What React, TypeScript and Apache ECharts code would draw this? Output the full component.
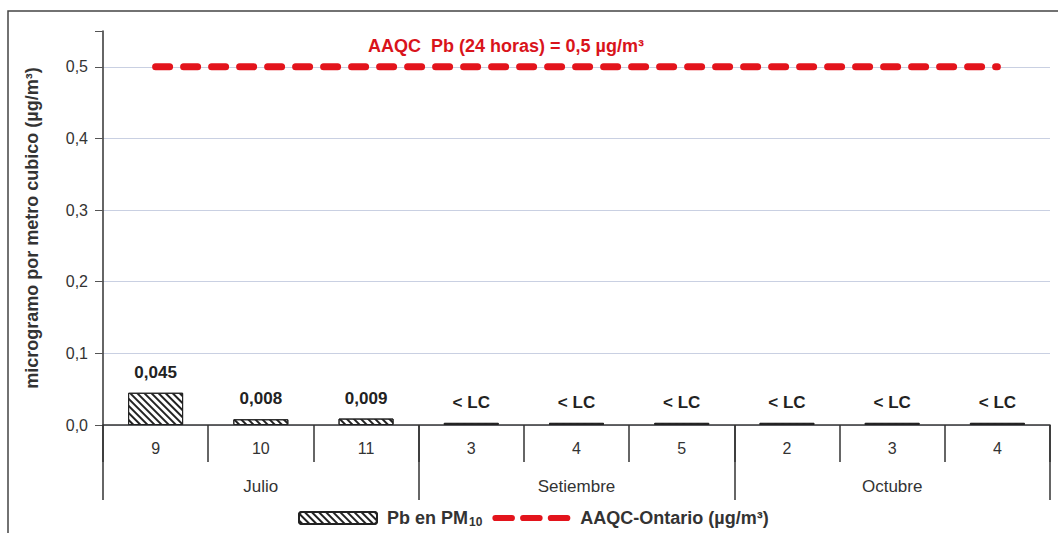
import React, { useEffect, useRef } from "react";
import * as echarts from "echarts";

const days = ["9", "10", "11", "3", "4", "5", "2", "3", "4"];
const months = ["Julio", "Setiembre", "Octubre"];
const pbValues = [0.045, 0.008, 0.009, 0.003, 0.003, 0.003, 0.003, 0.003, 0.003];
const pbLabels = ["0,045", "0,008", "0,009", "< LC", "< LC", "< LC", "< LC", "< LC", "< LC"];
const aaqcValues = [0.5, 0.5, 0.5, 0.5, 0.5, 0.5, 0.5, 0.5, 0.5];
const yTicks = [0, 0.1, 0.2, 0.3, 0.4, 0.5];

const FONT = "'Liberation Sans', Arial, sans-serif";
const RED = "#e3141c";

const DASH_ICON =
  "path://M3,3H19A3,3 0 0 1 19,9H3A3,3 0 0 1 3,3Z" +
  "M30,3H46A3,3 0 0 1 46,9H30A3,3 0 0 1 30,3Z" +
  "M57,3H73A3,3 0 0 1 73,9H57A3,3 0 0 1 57,3Z";

export default function App() {
  const ref = useRef<HTMLDivElement>(null);
  useEffect(() => {
    if (!ref.current) return;
    const chart = echarts.init(ref.current, undefined, { renderer: "svg" });
    chart.setOption({
      animation: false,
      backgroundColor: "#ffffff",
      textStyle: { fontFamily: FONT },
      title: {
        text: "AAQC  Pb (24 horas) = 0,5 µg/m³",
        left: 368,
        top: 37,
        padding: 0,
        textStyle: { color: "#d9141b", fontSize: 18, fontWeight: "bold", fontFamily: FONT },
      },
      graphic: [
        {
          type: "rect",
          shape: { x: 8, y: 11, width: 1062, height: 545 },
          style: { fill: "none", stroke: "#444", lineWidth: 1.5 },
          silent: true,
        },
      ],
      grid: { left: 103, right: 8, top: 31, bottom: 108 },
      legend: {
        left: 298,
        top: 509,
        itemWidth: 78,
        itemHeight: 12,
        itemGap: 10,
        padding: 0,
        data: [
          { name: "Pb en PM10" },
          { name: "AAQC-Ontario (µg/m³)", icon: DASH_ICON },
        ],
        formatter: (name: string) =>
          name === "Pb en PM10" ? "{t|Pb en PM}{s|10}" : "{t|" + name + "}",
        textStyle: {
          rich: {
            t: { fontSize: 18, fontWeight: "bold", color: "#333", fontFamily: FONT, padding: [0, 0, 0, 5] },
            s: { fontSize: 12, fontWeight: "bold", color: "#333", fontFamily: FONT, verticalAlign: "bottom", padding: [8, 0, 0, 1] },
          },
        },
      },
      xAxis: [
        {
          type: "category",
          data: days,
          position: "bottom",
          axisLine: { show: true, lineStyle: { color: "#333", width: 1.5 } },
          axisTick: { show: true, length: 37, lineStyle: { color: "#333", width: 1.5 } },
          axisLabel: { color: "#333", fontSize: 16, margin: 15, fontFamily: FONT },
        },
        {
          type: "category",
          data: months,
          position: "bottom",
          axisLine: { show: false },
          axisTick: { show: true, length: 75, lineStyle: { color: "#333", width: 1.5 } },
          axisLabel: { color: "#333", fontSize: 17, margin: 53, fontFamily: FONT },
        },
      ],
      yAxis: {
        type: "value",
        min: 0,
        max: 0.55,
        interval: 0.1,
        name: "microgramo por metro cubico (µg/m³)",
        nameLocation: "middle",
        nameGap: 62,
        nameTextStyle: { color: "#333", fontSize: 18, fontWeight: "bold", fontFamily: FONT },
        axisLine: { show: true, lineStyle: { color: "#333", width: 1.5 } },
        axisTick: { show: true, length: 8, lineStyle: { color: "#555" } },
        axisLabel: {
          color: "#333",
          fontSize: 16,
          margin: 15,
          fontFamily: FONT,
          formatter: (v: number) => {
            const hit = yTicks.find((t) => Math.abs(t - v) < 1e-6);
            return hit === undefined ? "" : hit.toFixed(1).replace(".", ",");
          },
        },
        splitLine: {
          show: true,
          showMaxLine: false,
          lineStyle: { color: "#c9d0e2", width: 1 },
        },
      },
      series: [
        {
          name: "Pb en PM10",
          type: "bar",
          xAxisIndex: 0,
          data: pbValues,
          barWidth: 55,
          itemStyle: {
            color: "#ffffff",
            borderColor: "#222",
            borderWidth: 1,
            decal: {
              symbol: "rect",
              symbolSize: 1,
              color: "#222",
              backgroundColor: "#ffffff",
              dashArrayX: [1, 0],
              dashArrayY: [2, 3],
              rotation: Math.PI / 4,
            },
          },
          label: {
            show: true,
            position: "top",
            distance: 12,
            color: "#222",
            fontSize: 17,
            fontWeight: "bold",
            fontFamily: FONT,
            formatter: (p: any) => pbLabels[p.dataIndex],
          },
        },
        {
          name: "AAQC-Ontario (µg/m³)",
          type: "line",
          xAxisIndex: 0,
          data: aaqcValues,
          symbol: "none",
          lineStyle: { color: RED, width: 7, type: [14, 14], cap: "round" },
          itemStyle: { color: RED },
          z: 5,
        },
      ],
    });
    return () => chart.dispose();
  }, []);
  return (
    <div
      ref={ref}
      style={{ position: "fixed", left: 0, top: 0, width: 1058, height: 533 }}
    />
  );
}
